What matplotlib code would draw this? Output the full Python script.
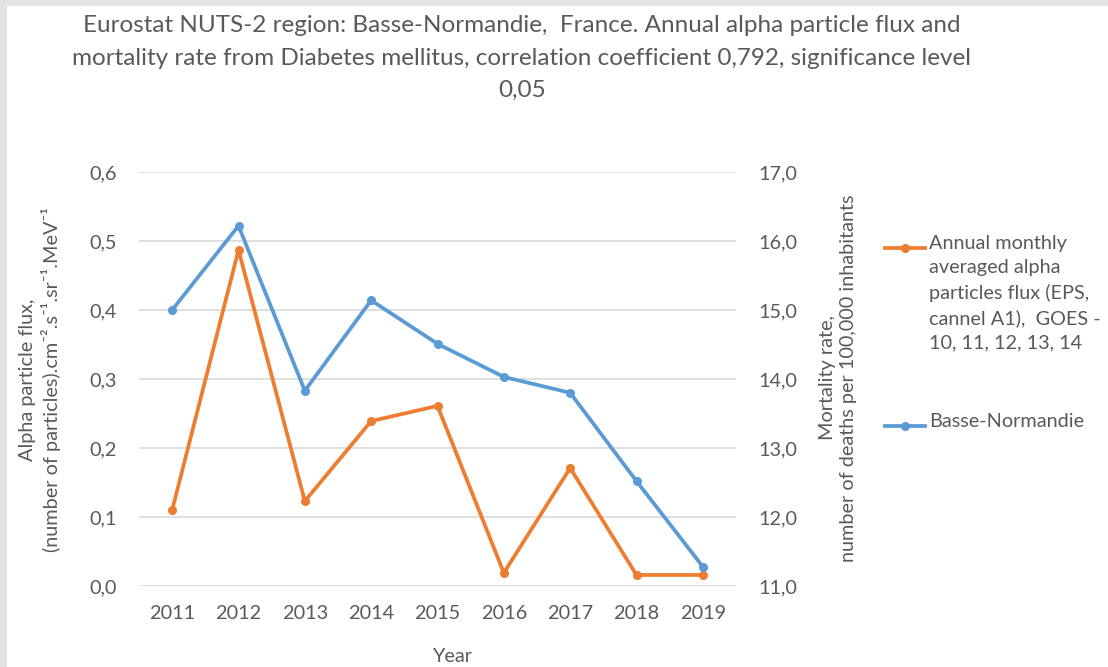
import matplotlib.pyplot as plt
from matplotlib.lines import Line2D
from matplotlib.patches import Rectangle

plt.rcParams['font.family'] = ['Lato', 'DejaVu Sans']

# data
years = ["2011", "2012", "2013", "2014", "2015", "2016", "2017", "2018", "2019"]
alpha_flux = [0.110, 0.487, 0.123, 0.239, 0.261, 0.019, 0.171, 0.016, 0.016]
mortality = [15.00, 16.22, 13.83, 15.14, 14.51, 14.03, 13.80, 12.52, 11.28]

left_ticks = [0.0, 0.1, 0.2, 0.3, 0.4, 0.5, 0.6]
right_ticks = [11.0, 12.0, 13.0, 14.0, 15.0, 16.0, 17.0]

orange = '#ED7D31'
blue = '#5B9BD5'
txt = '#595959'
grid = '#d9d9d9'
fs = 14.3

W, H = 1108, 667
fig = plt.figure(figsize=(W / 100, H / 100), dpi=100)
fig.patch.set_facecolor('#e3e3e3')
fig.patches.append(Rectangle((7 / W, 0), 1, 1 - 6 / H, transform=fig.transFigure,
                             facecolor='white', edgecolor='none', zorder=-5))

ax1 = fig.add_axes([139 / W, 1 - 586 / H, (736 - 139) / W, (586 - 172) / H])
ax1.set_facecolor('none')
x = list(range(len(years)))

ax1.plot(x, alpha_flux, color=orange, lw=2.7, marker='o', markersize=5.5, zorder=3)
ax1.set_ylim(0, 0.6)
ax1.set_yticks(left_ticks)
ax1.set_yticklabels([f"{v:.1f}".replace('.', ',') for v in left_ticks])
ax1.set_xlim(-0.5, len(years) - 0.5)
ax1.set_xticks(x)
ax1.set_xticklabels(years)
ax1.grid(axis='y', color=grid, lw=1.2)
ax1.set_axisbelow(True)
for s in ax1.spines.values():
    s.set_visible(False)
ax1.tick_params(length=0, colors=txt, labelsize=fs)
ax1.tick_params(axis='x', pad=14)
ax1.tick_params(axis='y', pad=16)

ax2 = ax1.twinx()
ax2.plot(x, mortality, color=blue, lw=2.7, marker='o', markersize=5.5, zorder=3)
ax2.set_ylim(11, 17)
ax2.set_yticks(right_ticks)
ax2.set_yticklabels([f"{v:.1f}".replace('.', ',') for v in right_ticks])
for s in ax2.spines.values():
    s.set_visible(False)
ax2.tick_params(length=0, colors=txt, labelsize=fs, pad=16)

# axis labels
fig.text(40 / W, 1 - 380 / H,
         "Alpha particle flux,\n(number of particles).cm\u207b\u00b2.s\u207b\u00b9.sr\u207b\u00b9.MeV\u207b\u00b9",
         rotation=90, ha='center', va='center', color=txt, fontsize=fs, linespacing=1.3)
fig.text(838 / W, 1 - 378 / H,
         "Mortality rate,\nnumber of deaths per 100,000 inhabitants",
         rotation=90, ha='center', va='center', color=txt, fontsize=fs, linespacing=1.3)
fig.text(453 / W, 1 - 657 / H, "Year", ha='center', va='center', color=txt, fontsize=fs)

# title
fig.text(522 / W, 1 - 15 / H,
         "Eurostat NUTS-2 region: Basse-Normandie,  France. Annual alpha particle flux and\n"
         "mortality rate from Diabetes mellitus, correlation coefficient 0,792, significance level\n"
         "0,05",
         ha='center', va='top', color=txt, fontsize=17.5, linespacing=1.68)

# legend drawn by hand
def legend_entry(y_px, color, label):
    fig.lines.append(Line2D([885 / W, 925 / W], [1 - y_px / H] * 2, transform=fig.transFigure,
                            color=color, lw=2.7, zorder=5))
    fig.lines.append(Line2D([905 / W], [1 - y_px / H], transform=fig.transFigure,
                            color=color, marker='o', markersize=5.5, zorder=5))
    fig.text(929 / W, 1 - (y_px - 13) / H, label, ha='left', va='top', color=txt,
             fontsize=fs, linespacing=1.5)

legend_entry(248, orange, "Annual monthly\naveraged alpha\nparticles flux (EPS,\n"
                          "cannel A1),  GOES -\n10, 11, 12, 13, 14")
legend_entry(426, blue, "Basse-Normandie")

fig.savefig("out.png", dpi=100)
